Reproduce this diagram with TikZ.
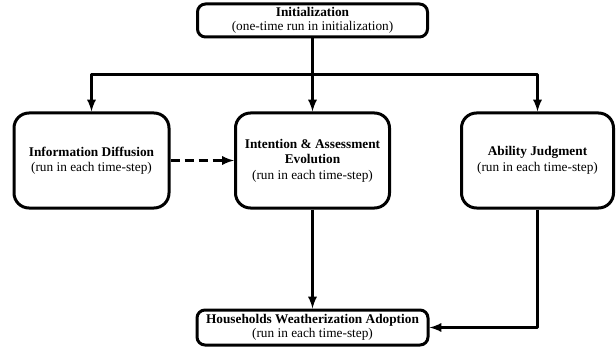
\documentclass[tikz,border=0pt]{standalone}
\usepackage{fontspec}
\setmainfont{Liberation Serif}
\begin{document}
\begin{tikzpicture}[x=1pt,y=-1pt,line width=3pt,>=latex,
  line join=round,font=\fontsize{13.3}{15.5}\selectfont,
  stage/.style={draw,rounded corners=15pt,align=center,
    minimum height=95pt,inner sep=2pt},
  bar/.style={draw,rounded corners=8pt,align=center,inner sep=1pt,
    font=\fontsize{13.3}{14}\selectfont}]
  \useasboundingbox (0,0) rectangle (616,350);
  \node[bar,minimum width=230pt,minimum height=33pt] (init) at (312.5,20.5)
    {\textbf{Initialization}\\(one-time run in initialization)};
  \node[stage,minimum width=155pt] (diff) at (91.5,160.5)
    {\textbf{Information Diffusion}\\(run in each time-step)};
  \node[stage,minimum width=154pt] (evol) at (312.5,160.5)
    {\textbf{Intention \& Assessment}\\\textbf{Evolution}\\(run in each time-step)};
  \node[stage,minimum width=152pt] (abil) at (537.5,160.5)
    {\textbf{Ability Judgment}\\(run in each time-step)};
  \node[bar,minimum width=231pt,minimum height=35pt] (adopt) at (312.5,327.5)
    {\textbf{Households Weatherization Adoption}\\(run in each time-step)};
  \coordinate (split) at (312.5,75);
  \draw[->] (init.south) -- (evol.north);
  \draw[->] (split) -| (diff.north);
  \draw[->] (split) -| (abil.north);
  \draw[->,dashed,dash pattern=on 9pt off 5pt] (diff.east) -- (evol.west);
  \draw[->] (evol.south) -- (adopt.north);
  \draw[->] (abil.south) |- (adopt.east);
\end{tikzpicture}
\end{document}
